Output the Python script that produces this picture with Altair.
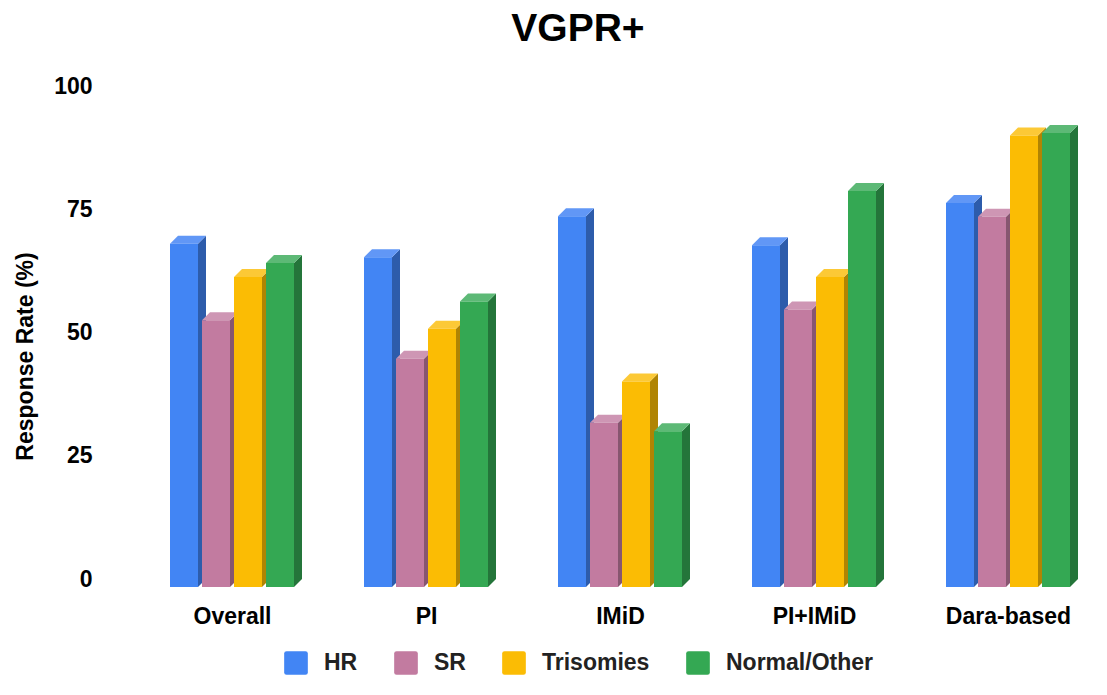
import altair as alt
import pandas as pd

# ---------------- data ----------------
CATEGORIES = ["Overall", "PI", "IMiD", "PI+IMiD", "Dara-based"]
SERIES = ["HR", "SR", "Trisomies", "Normal/Other"]
HR = [69.6, 66.9, 75.2, 69.3, 77.9]
SR = [54.1, 46.3, 33.3, 56.3, 75.1]
TRISOMIES = [62.9, 52.4, 41.7, 62.9, 91.6]
NORMAL_OTHER = [65.7, 57.9, 31.6, 80.3, 92.1]
Y_TICKS = [0, 25, 50, 75, 100]

# ---------------- style ----------------
FRONT_COLORS = ["#4285F4", "#C27BA0", "#FBBC04", "#34A853"]
SIDE_COLORS = ["#2D5CAB", "#875670", "#B08403", "#24753A"]
TOP_COLORS = ["#6197F6", "#CE96B4", "#FCC936", "#5DB976"]
FONT = "Liberation Sans"

GROUP_PX = 194      # distance between category centres
BAR_PX = 28         # front face width
STEP_PX = 32        # distance between bars in a group
DEPTH_PX = 8        # 3-D depth
PLOT_W = 950
PLOT_H = 493
Y_MAX = 100

values = [HR, SR, TRISOMIES, NORMAL_OTHER]
bar_w = BAR_PX / GROUP_PX
step = STEP_PX / GROUP_PX
dx = DEPTH_PX / GROUP_PX
dy = DEPTH_PX * Y_MAX / PLOT_H
group_half = (3 * STEP_PX + BAR_PX) / 2 / GROUP_PX

front_rows, side_rows, top_rows = [], [], []
for i, cat in enumerate(CATEGORIES):
    for j, s in enumerate(SERIES):
        v = values[j][i]
        L = i - group_half + j * step
        R = L + bar_w
        fid = f"{cat}|{s}"
        front_rows.append(dict(series=s, x=L, x2=R, y=0, y2=v))
        side_rows += [
            dict(series=s, face=fid, x=R, y=v, y2=0),
            dict(series=s, face=fid, x=R + dx, y=v + dy, y2=dy),
        ]
        top_rows += [
            dict(series=s, face=fid, x=L, y=v, y2=v),
            dict(series=s, face=fid, x=L + dx, y=v + dy, y2=v),
            dict(series=s, face=fid, x=R, y=v + dy, y2=v),
            dict(series=s, face=fid, x=R + dx, y=v + dy, y2=v + dy),
        ]

front_df = pd.DataFrame(front_rows)
side_df = pd.DataFrame(side_rows)
top_df = pd.DataFrame(top_rows)

x_min = -0.5
x_scale = alt.Scale(domain=[x_min, x_min + PLOT_W / GROUP_PX], nice=False, zero=False)
y_scale = alt.Scale(domain=[0, Y_MAX], nice=False)

label_expr = "[" + ",".join(f"'{c}'" for c in CATEGORIES) + "][datum.value]"

x_axis = alt.Axis(
    values=list(range(len(CATEGORIES))), labelExpr=label_expr, title=None,
    labelFont=FONT, labelFontSize=23, labelFontWeight="bold", labelColor="#000",
    labelPadding=18, domain=False, ticks=False, grid=False,
)
y_axis = alt.Axis(
    values=Y_TICKS, title="Response Rate (%)",
    labelFont=FONT, labelFontSize=23, labelFontWeight="bold", labelColor="#000",
    labelPadding=43, labelOffset=-8,
    titleFont=FONT, titleFontSize=23, titleFontWeight="bold", titleColor="#000",
    titleX=-103, titleY=262, titleAlign="center", titleBaseline="alphabetic", titleAngle=270,
    domain=False, ticks=False, grid=False,
)

legend_symbol = "M-0.8,-1H0.8Q1,-1,1,-0.8V0.8Q1,1,0.8,1H-0.8Q-1,1,-1,0.8V-0.8Q-1,-1,-0.8,-1Z"

side = alt.Chart(side_df).mark_area(strokeWidth=0).encode(
    x=alt.X("x:Q", scale=x_scale, axis=x_axis),
    y=alt.Y("y:Q", scale=y_scale, axis=y_axis),
    y2="y2:Q",
    detail="face:N",
    color=alt.Color("series:N", scale=alt.Scale(domain=SERIES, range=SIDE_COLORS), legend=None),
)

top = alt.Chart(top_df).mark_area(strokeWidth=0).encode(
    x=alt.X("x:Q", scale=x_scale, axis=x_axis),
    y=alt.Y("y:Q", scale=y_scale, axis=y_axis),
    y2="y2:Q",
    detail="face:N",
    color=alt.Color("series:N", scale=alt.Scale(domain=SERIES, range=TOP_COLORS), legend=None),
)

front = alt.Chart(front_df).mark_rect().encode(
    x=alt.X("x:Q", scale=x_scale, axis=x_axis),
    x2="x2:Q",
    y=alt.Y("y:Q", scale=y_scale, axis=y_axis),
    y2="y2:Q",
    color=alt.Color(
        "series:N",
        scale=alt.Scale(domain=SERIES, range=FRONT_COLORS),
        legend=alt.Legend(
            title=None, orient="none", direction="horizontal",
            legendX=149, legendY=557, padding=0,
            symbolType=legend_symbol, symbolSize=560, symbolStrokeWidth=0,
            labelFont=FONT, labelFontSize=23, labelFontWeight="bold", labelColor="#222",
            labelOffset=16, columnPadding=36,
        ),
    ),
)

chart = (
    alt.layer(side, top, front)
    .resolve_scale(color="independent")
    .properties(
        width=PLOT_W,
        height=PLOT_H,
        autosize="none",
        padding={"left": 127, "top": 86, "right": 14, "bottom": 100},
        title=alt.TitleParams(
            text="VGPR+", font=FONT, fontSize=39, fontWeight="bold", color="#000",
            anchor="middle", dx=-32, offset=26,
        ),
    )
    .configure_view(stroke=None)
)

chart.save("out.html", embed_options={"renderer": "svg", "actions": False})
